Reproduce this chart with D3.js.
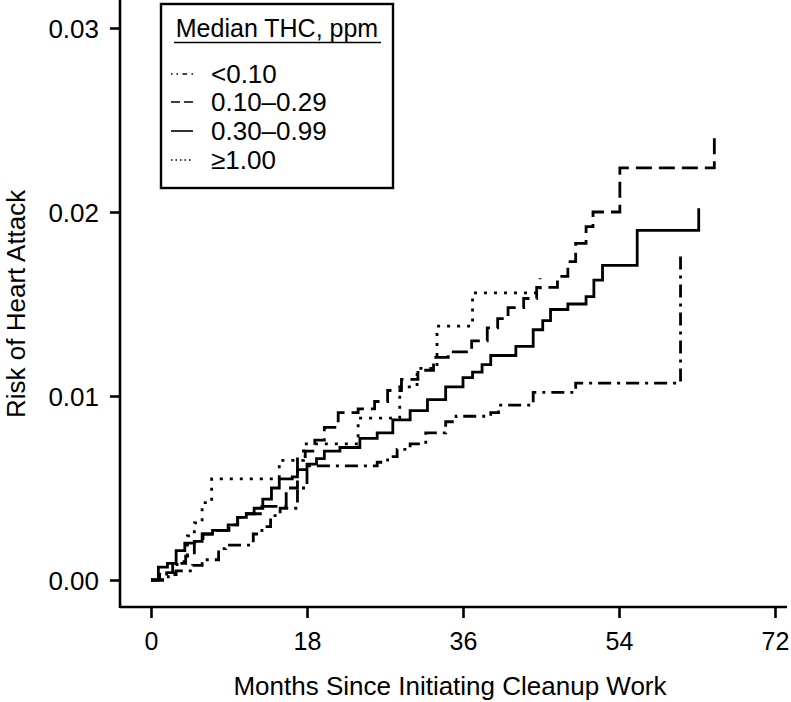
<!DOCTYPE html>
<html>
<head>
<meta charset="utf-8">
<script src="https://cdn.jsdelivr.net/npm/d3@7"></script>
<style>
  html, body { margin: 0; padding: 0; background: #fff; }
  svg { display: block; }
  text { font-family: "Liberation Sans", Arial, Helvetica, sans-serif; fill: #000; }
</style>
</head>
<body>
<svg id="chart" width="791" height="702"></svg>
<script>
// ---- Data (months since initiating cleanup work, cumulative risk) ----
const xTicks = [0, 18, 36, 54, 72];
const yTicks = [0.00, 0.01, 0.02, 0.03];
const legendTitle = "Median THC, ppm";
const seriesNames = ["<0.10", "0.10\u20130.29", "0.30\u20130.99", "\u22651.00"];

const thcLt010 = [
  [0, 0], [2.0, 0.0003], [2.9, 0.0005], [4.8, 0.0008], [5.9, 0.0011], [7.8, 0.0017],
  [8.6, 0.0019], [11.8, 0.0025], [12.8, 0.0029], [13.8, 0.0035], [14.9, 0.0039],
  [16.9, 0.0050], [18.0, 0.0062], [26.1, 0.0064], [27.3, 0.0067], [28.4, 0.0071],
  [29.9, 0.0074], [31.7, 0.0080], [34.0, 0.0086], [35.2, 0.0089], [39.2, 0.0091],
  [40.1, 0.0095], [44.1, 0.0102], [49.0, 0.0107], [61.1, 0.0177]
];
const thc010to029 = [
  [0, 0], [1.0, 0.0004], [2.5, 0.0009], [4.0, 0.0013], [5.0, 0.0021], [6.0, 0.0025],
  [7.2, 0.0027], [9.0, 0.0030], [10.0, 0.0034], [11.0, 0.0036], [12.8, 0.0040],
  [15.6, 0.0050], [16.9, 0.0067], [17.8, 0.0070], [18.9, 0.0076], [20.0, 0.0083],
  [21.6, 0.0091], [23.9, 0.0093], [25.8, 0.0097], [27.3, 0.0103], [28.9, 0.0109],
  [30.8, 0.0114], [32.6, 0.0121], [34.3, 0.0124], [37.0, 0.0130], [38.8, 0.0137],
  [40.0, 0.0142], [41.2, 0.0148], [43.0, 0.0153], [44.5, 0.0159], [46.9, 0.0165],
  [48.1, 0.0173], [49.0, 0.0183], [50.2, 0.0192], [51.0, 0.0200], [54.1, 0.0224],
  [65.0, 0.0242]
];
const thc030to099 = [
  [0, 0], [0.85, 0.0007], [1.9, 0.0009], [2.9, 0.0016], [3.9, 0.0020], [5.0, 0.0021],
  [5.9, 0.0025], [7.1, 0.0027], [8.9, 0.0030], [10.0, 0.0034], [11.0, 0.0036],
  [11.9, 0.0039], [12.9, 0.0044], [13.9, 0.0050], [14.8, 0.0055], [16.3, 0.0056],
  [16.9, 0.0060], [18.0, 0.0063], [19.1, 0.0066], [20.0, 0.0070], [21.8, 0.0072],
  [24.1, 0.0077], [26.1, 0.0080], [27.9, 0.0087], [29.9, 0.0092], [31.9, 0.0098],
  [34.0, 0.0105], [36.0, 0.0110], [37.1, 0.0113], [38.2, 0.0117], [39.2, 0.0122],
  [42.1, 0.0127], [44.1, 0.0136], [45.2, 0.0141], [46.1, 0.0147], [48.1, 0.0150],
  [50.2, 0.0154], [51.1, 0.0163], [52.1, 0.0171], [56.1, 0.0190], [63.2, 0.0202]
];
const thcGe100 = [
  [0, 0], [1.8, 0.0004], [3.0, 0.0010], [4.2, 0.0024], [5.0, 0.0031], [5.9, 0.0042],
  [7.0, 0.0055], [14.8, 0.0065], [17.6, 0.0074], [23.9, 0.0088], [28.7, 0.0105],
  [30.7, 0.0115], [33.0, 0.0138], [37.1, 0.0156], [44.9, 0.0164]
];

const seriesData = [thcLt010, thc010to029, thc030to099, thcGe100];
const dashMain = ["13,6,3,6", "16,7", null, "3,7"];
const dashLegend = ["1.5,4,1.5,4.5,4.5,4.5,1.5,4", "9,4", null, "1.5,3"];

// ---- Drawing ----
const svg = d3.select("#chart");
const x = d3.scaleLinear().domain([0, 72]).range([151, 775]);
const y = d3.scaleLinear().domain([0, 0.03]).range([580, 28]);

// axes
const axisX = svg.append("g").attr("transform", "translate(0,607)")
  .call(d3.axisBottom(x).tickValues(xTicks).tickSize(11).tickSizeOuter(0).tickFormat(d3.format("d")));
axisX.select(".domain").attr("d", "M120,0H787");
axisX.selectAll("text").attr("y", 0).attr("dy", 0).attr("transform", "translate(0,43)")
  .style("font-size", "25px").style("font-family", '"Liberation Sans", Arial, sans-serif');

const axisY = svg.append("g").attr("transform", "translate(120,0)")
  .call(d3.axisLeft(y).tickValues(yTicks).tickSize(10).tickSizeOuter(0).tickFormat(d3.format(".2f")));
axisY.select(".domain").attr("d", "M0,0V608");
axisY.selectAll("text").attr("x", -21).attr("dy", "0.36em")
  .style("font-size", "26px").style("font-family", '"Liberation Sans", Arial, sans-serif');

svg.selectAll(".domain, .tick line").attr("stroke", "#000").attr("stroke-width", 2.6);

// axis titles
svg.append("text").attr("x", 450).attr("y", 695).attr("text-anchor", "middle")
  .style("font-size", "26px").text("Months Since Initiating Cleanup Work");
svg.append("text").attr("transform", "translate(25,418) rotate(-90)").attr("text-anchor", "start")
  .style("font-size", "26px").text("Risk of Heart Attack");

// curves
const line = d3.line().x(d => x(d[0])).y(d => y(d[1])).curve(d3.curveStepAfter);
seriesData.forEach((s, i) => {
  svg.append("path").datum(s).attr("d", line)
    .attr("fill", "none").attr("stroke", "#000").attr("stroke-width", 2.8)
    .attr("stroke-dasharray", dashMain[i]);
});

// legend
const lg = svg.append("g");
lg.append("rect").attr("x", 161).attr("y", 4).attr("width", 232).attr("height", 184)
  .attr("fill", "#fff").attr("stroke", "#000").attr("stroke-width", 2.4);
lg.append("text").attr("x", 277).attr("y", 37).attr("text-anchor", "middle")
  .style("font-size", "25px").text(legendTitle);
lg.append("line").attr("x1", 174).attr("x2", 381).attr("y1", 42.5).attr("y2", 42.5)
  .attr("stroke", "#000").attr("stroke-width", 1.5);
const itemY = [74, 102, 131, 160];
seriesNames.forEach((name, i) => {
  lg.append("line").attr("x1", 171).attr("x2", 193).attr("y1", itemY[i]).attr("y2", itemY[i])
    .attr("stroke", "#000").attr("stroke-width", 1.6).attr("stroke-dasharray", dashLegend[i]);
  lg.append("text").attr("x", 211).attr("y", itemY[i]).attr("dy", "0.36em")
    .style("font-size", "26px").text(name);
});
</script>
</body>
</html>
